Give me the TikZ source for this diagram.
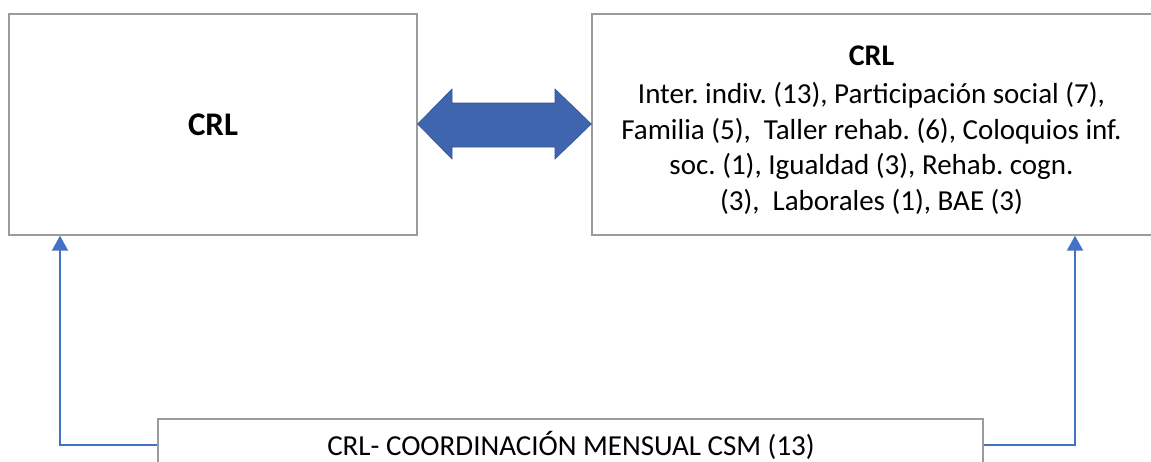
\documentclass[tikz,border=0pt]{standalone}
\usepackage{fontspec}
\setmainfont{Carlito}
\usetikzlibrary{calc,arrows.meta}
\definecolor{boxgray}{RGB}{155,155,155}
\definecolor{bigblue}{RGB}{63,101,174}
\definecolor{bigblueline}{RGB}{50,85,150}
\definecolor{lineblue}{RGB}{68,114,196}
\frenchspacing
\begin{document}
\begin{tikzpicture}[x=1pt,y=-1pt,
  boxnode/.style={draw=boxgray,line width=1.3pt,fill=white,inner sep=0pt,rectangle},
  link/.style={draw=lineblue,line width=1.8pt,-{Triangle[width=16pt,length=15pt]}},
]
\useasboundingbox (0,0) rectangle (1151,461);
\clip (0,0) rectangle (1151,461);
% boxes
\node[boxnode,minimum width=408pt,minimum height=221pt] (left) at (213,124.5) {};
\node[font=\fontsize{33}{40}\selectfont\bfseries,anchor=base] (lefttext) at (213,135) {CRL};
\node[boxnode,minimum width=560pt,minimum height=221pt] (right) at (872,124.5) {};
\node[font=\fontsize{29}{35.5}\selectfont,align=center,anchor=north,inner sep=0pt] (righttext) at (871.5,46)
  {{\fontsize{30}{35.5}\selectfont\bfseries CRL}\\[2.5pt]
   Inter. indiv. (13), Participación social (7),\\
   Familia (5),\ \ Taller rehab. (6), Coloquios inf.\\
   soc. (1), Igualdad (3), Rehab. cogn.\\
   (3),\ \ Laborales (1), BAE (3)};
\node[boxnode,minimum width=825pt,minimum height=54pt] (bottom) at (570.5,446) {};
\node[font=\fontsize{29}{32}\selectfont,anchor=base] (bottomtext) at (571,455) {CRL- COORDINACIÓN MENSUAL CSM (13)};
% double arrow
\fill[bigblue,draw=bigblueline,line width=0.6pt]
  (left.east |- 0,124) -- (452,89) -- (452,103) -- (555,103) -- (555,89)
  -- (right.west |- 0,124) -- (555,159) -- (555,147) -- (452,147) -- (452,159) -- cycle;
% connectors
\draw[link] (bottom.west |- 0,445) -- (60,445) -- (left.south -| 60,0);
\draw[link] (bottom.east |- 0,445) -- (1075,445) -- (right.south -| 1075,0);
\end{tikzpicture}
\end{document}
